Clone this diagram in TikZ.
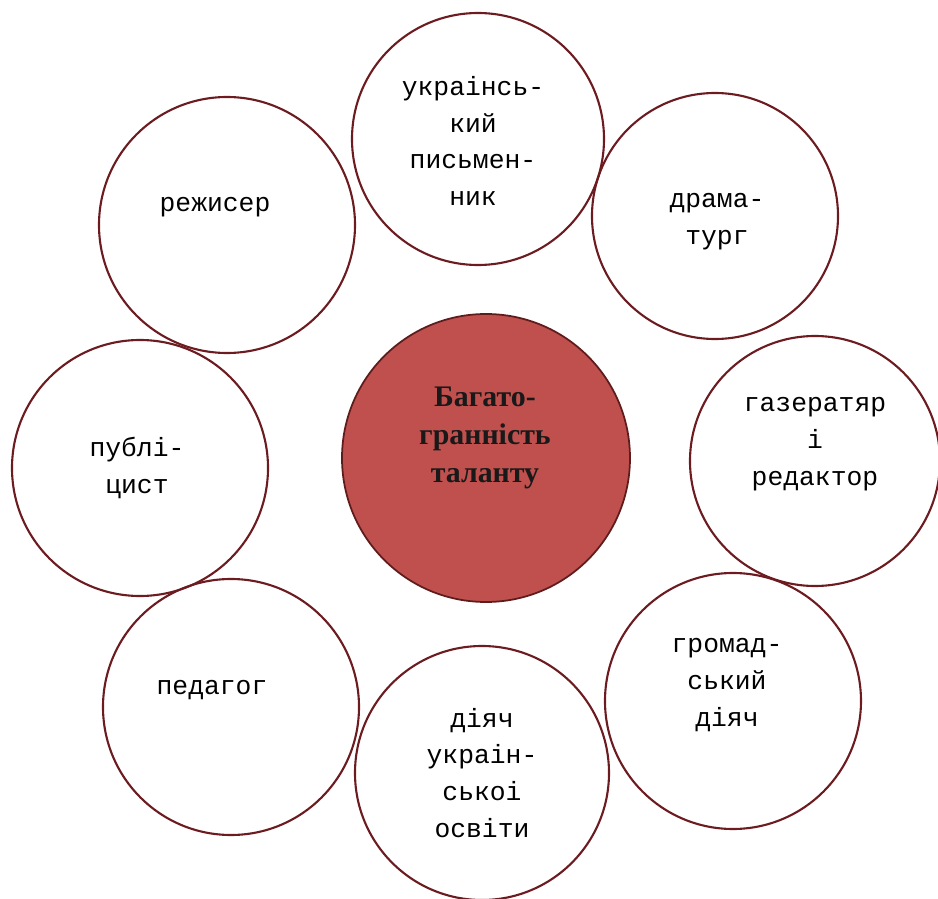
\documentclass[tikz,border=0pt]{standalone}
\usepackage{fontspec}
\setmainfont{Liberation Serif}
\newfontfamily\ringfont{Liberation Mono}

\definecolor{ringred}{RGB}{108,28,32}
\definecolor{corefill}{RGB}{192,80,77}
\definecolor{coreline}{RGB}{95,28,28}

\tikzset{
  ring/.style={circle, draw=ringred, line width=1.2pt, inner sep=0pt},
  core/.style={circle, draw=coreline, fill=corefill, line width=1pt, inner sep=0pt},
  ringtext/.style={align=center, text=black, font=\ringfont\fontsize{15}{21}\selectfont},
  coretext/.style={align=center, text=black!90, font=\bfseries\fontsize{17}{21.5}\selectfont}
}

\begin{document}
\begin{tikzpicture}[x=0.02cm,y=-0.02cm]
\useasboundingbox (0,0) rectangle (938,899);

% outer circles
\foreach \name/\cx/\cy/\r in {writer/478/139/126, drama/715/216/123, editor/815/461/125,
    civic/733/701/128, education/482/773/127, pedagogue/231/707/128,
    publicist/140/468/128, director/227/225/128}{
  \node[ring, minimum size=2*\r*0.02cm] (\name) at (\cx,\cy) {};
}

% centre
\node[core, minimum size=288*0.02cm] (talent) at (486,458) {};
\node[coretext] (talenttext) at (485,438) {Багато-\\гранність\\таланту};

% labels
\node[ringtext] (writertext) at (473,141) {украінсь-\\кий\\письмен-\\ник};
\node[ringtext] (dramatext) at (717,222) {драма-\\тург};
\node[ringtext] (editortext) at (815,444) {газератяр\\і\\редактор};
\node[ringtext] (civictext) at (727,685) {громад-\\ський\\діяч};
\node[ringtext] (educationtext) at (482,773) {діяч\\украін-\\ськоі\\освіти};
\node[ringtext] (pedagoguetext) at (212,690) {педагог};
\node[ringtext] (publicisttext) at (137,468) {публі-\\цист};
\node[ringtext] (directortext) at (215,207) {режисер};
\end{tikzpicture}
\end{document}
